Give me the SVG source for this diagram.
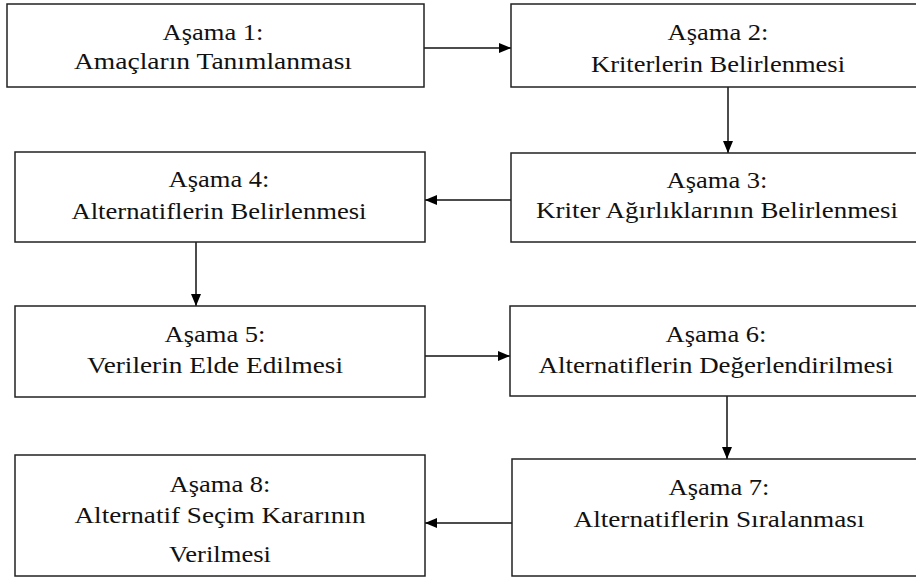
<svg xmlns="http://www.w3.org/2000/svg" width="916" height="578" viewBox="0 0 916 578">
<style>
.box{fill:#fff;stroke:#222;stroke-width:1.5}
.t{font-family:"Liberation Serif","Times New Roman",serif;font-size:23px;fill:#111;text-anchor:middle}
.c{fill:none;stroke:#111;stroke-width:1.5}
</style>
<defs>
<marker id="ah" markerWidth="12" markerHeight="10" refX="12" refY="5" orient="auto" markerUnits="userSpaceOnUse">
<path d="M0,0 L12,5 L0,10 Z" fill="#000"/>
</marker>
</defs>
<rect width="916" height="578" fill="#fff"/>
<g id="connectors">
<line class="c" x1="424" y1="48" x2="511" y2="48" marker-end="url(#ah)"/>
<line class="c" x1="728" y1="87" x2="728" y2="153" marker-end="url(#ah)"/>
<line class="c" x1="511" y1="200" x2="425" y2="200" marker-end="url(#ah)"/>
<line class="c" x1="196" y1="242" x2="196" y2="306" marker-end="url(#ah)"/>
<line class="c" x1="425" y1="356" x2="510" y2="356" marker-end="url(#ah)"/>
<line class="c" x1="727" y1="396" x2="727" y2="459" marker-end="url(#ah)"/>
<line class="c" x1="512" y1="523" x2="425" y2="523" marker-end="url(#ah)"/>
</g>
<g id="n1"><rect class="box" x="7" y="4" width="417" height="83"/>
<text class="t" x="213" y="40" textLength="101" lengthAdjust="spacingAndGlyphs">Aşama 1:</text><text class="t" x="213" y="69" textLength="278" lengthAdjust="spacingAndGlyphs">Amaçların Tanımlanması</text></g>
<g id="n2"><rect class="box" x="511" y="4" width="420" height="83"/>
<text class="t" x="718" y="40" textLength="101" lengthAdjust="spacingAndGlyphs">Aşama 2:</text><text class="t" x="718" y="72" textLength="254" lengthAdjust="spacingAndGlyphs">Kriterlerin Belirlenmesi</text></g>
<g id="n3"><rect class="box" x="511" y="153" width="420" height="89"/>
<text class="t" x="717" y="188" textLength="101" lengthAdjust="spacingAndGlyphs">Aşama 3:</text><text class="t" x="717" y="218" textLength="362" lengthAdjust="spacingAndGlyphs">Kriter Ağırlıklarının Belirlenmesi</text></g>
<g id="n4"><rect class="box" x="15" y="152" width="410" height="90"/>
<text class="t" x="219" y="187" textLength="101" lengthAdjust="spacingAndGlyphs">Aşama 4:</text><text class="t" x="219" y="219" textLength="295" lengthAdjust="spacingAndGlyphs">Alternatiflerin Belirlenmesi</text></g>
<g id="n5"><rect class="box" x="15" y="306" width="410" height="91"/>
<text class="t" x="215" y="342" textLength="101" lengthAdjust="spacingAndGlyphs">Aşama 5:</text><text class="t" x="215" y="373" textLength="256" lengthAdjust="spacingAndGlyphs">Verilerin Elde Edilmesi</text></g>
<g id="n6"><rect class="box" x="510" y="306" width="421" height="90"/>
<text class="t" x="716" y="342" textLength="101" lengthAdjust="spacingAndGlyphs">Aşama 6:</text><text class="t" x="716" y="373" textLength="355" lengthAdjust="spacingAndGlyphs">Alternatiflerin Değerlendirilmesi</text></g>
<g id="n7"><rect class="box" x="512" y="459" width="419" height="117"/>
<text class="t" x="719" y="495" textLength="101" lengthAdjust="spacingAndGlyphs">Aşama 7:</text><text class="t" x="719" y="527" textLength="291" lengthAdjust="spacingAndGlyphs">Alternatiflerin Sıralanması</text></g>
<g id="n8"><rect class="box" x="15" y="455" width="410" height="121"/>
<text class="t" x="220" y="492" textLength="101" lengthAdjust="spacingAndGlyphs">Aşama 8:</text><text class="t" x="220" y="523" textLength="291" lengthAdjust="spacingAndGlyphs">Alternatif Seçim Kararının</text><text class="t" x="220" y="562" textLength="102" lengthAdjust="spacingAndGlyphs">Verilmesi</text></g>
</svg>
